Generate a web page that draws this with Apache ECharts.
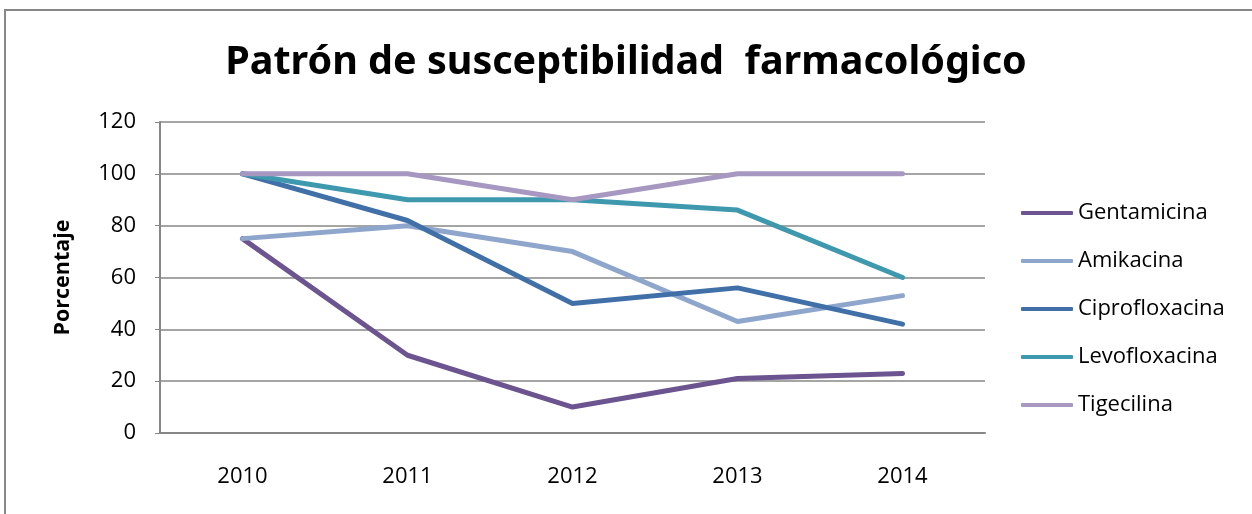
<!DOCTYPE html>
<html>
<head>
<meta charset="utf-8">
<script src="https://cdn.jsdelivr.net/npm/echarts@6/dist/echarts.min.js"></script>
<style>
    html, body { margin: 0; padding: 0; background: #fff; }
    #chart { width: 1252px; height: 514px; }
</style>
</head>
<body>
<div id="chart"></div>
<script>
// datos
const years = ['2010', '2011', '2012', '2013', '2014'];
const gentamicina = [75, 30, 10, 21, 23];
const amikacina = [75, 80, 70, 43, 53];
const ciprofloxacina = [100, 82, 50, 56, 42];
const levofloxacina = [100, 90, 90, 86, 60];
const tigecilina = [100, 100, 90, 100, 100];

const seriesDefs = [
    { name: 'Gentamicina', data: gentamicina, color: '#6B548F' },
    { name: 'Amikacina', data: amikacina, color: '#8EA6CC' },
    { name: 'Ciprofloxacina', data: ciprofloxacina, color: '#4170A8' },
    { name: 'Levofloxacina', data: levofloxacina, color: '#3E98AE' },
    { name: 'Tigecilina', data: tigecilina, color: '#A698C1' },
];

const myChart = echarts.init(document.getElementById('chart'), null, { renderer: 'canvas' });

const option = {
    animation: false,
    textStyle: { fontFamily: 'Open Sans' },
    title: {
        text: 'Patrón de susceptibilidad  farmacológico',
        left: 'center',
        top: 38,
        textStyle: {
            fontFamily: 'Noto Sans',
            fontWeight: 'bold',
            fontSize: 39.5,
            color: '#000',
        },
    },
    graphic: [
        {
            type: 'rect',
            shape: { x: 5, y: 10, width: 1260, height: 520 },
            style: { fill: 'none', stroke: '#878787', lineWidth: 2 },
            silent: true,
        },
    ],
    legend: {
        orient: 'vertical',
        left: 1016,
        top: 193,
        itemWidth: 52,
        itemHeight: 4,
        itemGap: 18,
        icon: 'roundRect',
        textStyle: { fontSize: 22, lineHeight: 30, color: '#000' },
        data: seriesDefs.map(s => s.name),
    },
    grid: {
        left: 160,
        right: 267,
        top: 122,
        bottom: 81,
        containLabel: false,
    },
    xAxis: {
        type: 'category',
        boundaryGap: true,
        data: years,
        axisLine: { lineStyle: { color: '#878787', width: 2 } },
        axisTick: { show: false },
        axisLabel: { color: '#000', fontSize: 22, margin: 33 },
    },
    yAxis: {
        type: 'value',
        min: 0,
        max: 120,
        interval: 20,
        name: 'Porcentaje',
        nameLocation: 'middle',
        nameGap: 86,
        nameRotate: 90,
        nameTextStyle: { fontWeight: 'bold', fontSize: 21.5, color: '#000' },
        axisLine: { show: true, lineStyle: { color: '#878787', width: 2 } },
        axisTick: { show: true, length: 5, lineStyle: { color: '#878787' } },
        axisLabel: { color: '#000', fontSize: 22, margin: 24 },
        splitLine: { lineStyle: { color: '#878787', width: 1.5 } },
    },
    series: seriesDefs.map(s => ({
        name: s.name,
        type: 'line',
        data: s.data,
        symbol: 'none',
        color: s.color,
        lineStyle: { width: 5, color: s.color, cap: 'round' },
    })),
};

myChart.setOption(option);
window.addEventListener('resize', () => {
    myChart.resize();
});
</script>
</body>
</html>
